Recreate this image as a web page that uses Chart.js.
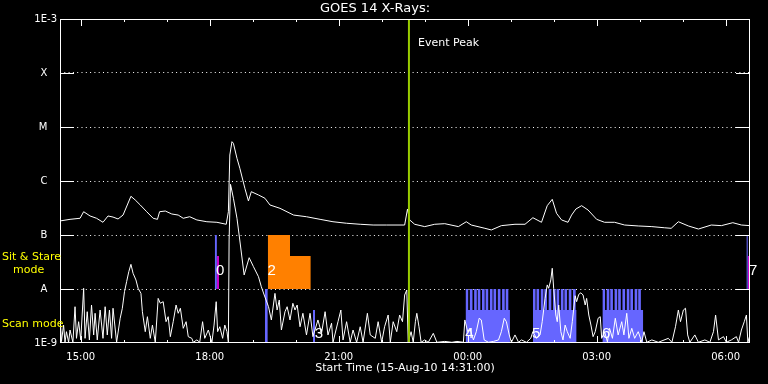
<!DOCTYPE html>
<html><head><meta charset="utf-8">
<script src="https://cdn.jsdelivr.net/npm/chart.js@4.4.1/dist/chart.umd.min.js"></script>
<style>html,body{margin:0;background:#000;}canvas{display:block;}</style>
</head><body>
<canvas id="c" width="768" height="384"></canvas>
<script>
'use strict';
const WHITE='#ffffff',BLUE='#6666ff',MAGENTA='#cc00cc',ORANGE='#ff8000',PEAK='#99cc00',YELLOW='#ffff00';
const FONT='"DejaVu Sans", sans-serif';
// time = minutes since start of plot (15-Aug-10 14:31:00)
const START='14:31';
const X_TICK_LABELS=['15:00','16:00','17:00','18:00','19:00','20:00','21:00','22:00','23:00','00:00','01:00','02:00','03:00','04:00','05:00','06:00'];
const Y_LEVELS=[1e-9,1e-8,1e-7,1e-6,1e-5,1e-4,1e-3];
const Y_LABELS=['1E-9','A','B','C','M','X','1E-3'];
const T_END=963;
// GOES long channel (1-8 A), [minutes, W/m2]
const LONG=[[0,1.82e-7],[14,1.95e-7],[28,2.04e-7],[33,2.70e-7],[42,2.25e-7],[51,2.04e-7],[60,1.72e-7],[67,2.25e-7],[74,2.15e-7],[81,1.98e-7],[88,2.34e-7],[99,5.21e-7],[105,4.45e-7],[112,3.60e-7],[121,2.70e-7],[130,2.04e-7],[136,1.95e-7],[139,2.70e-7],[147,2.78e-7],[156,2.45e-7],[165,2.34e-7],[172,2.04e-7],[181,2.18e-7],[191,1.90e-7],[205,1.76e-7],[219,1.72e-7],[232,1.58e-7],[235,2.70e-7],[237,3.03e-6],[240,5.35e-6],[242,4.99e-6],[247,2.63e-6],[251,1.72e-6],[258,7.33e-7],[263,4.27e-7],[267,6.34e-7],[277,5.51e-7],[286,4.79e-7],[293,3.60e-7],[307,3.12e-7],[326,2.34e-7],[344,2.18e-7],[363,1.95e-7],[381,1.76e-7],[400,1.65e-7],[419,1.58e-7],[437,1.53e-7],[456,1.53e-7],[481,1.53e-7],[485,3.03e-7],[488,1.90e-7],[495,1.58e-7],[509,1.43e-7],[523,1.58e-7],[537,1.62e-7],[556,1.43e-7],[567,1.76e-7],[574,1.53e-7],[593,1.33e-7],[602,1.24e-7],[616,1.49e-7],[635,1.58e-7],[649,1.58e-7],[660,2.09e-7],[672,1.72e-7],[680,3.49e-7],[687,4.58e-7],[693,2.52e-7],[700,1.90e-7],[709,1.72e-7],[714,2.34e-7],[720,3.03e-7],[728,3.49e-7],[737,2.90e-7],[749,1.95e-7],[760,1.72e-7],[774,1.72e-7],[788,1.53e-7],[807,1.47e-7],[826,1.43e-7],[844,1.36e-7],[853,1.33e-7],[863,1.76e-7],[877,1.47e-7],[891,1.29e-7],[909,1.53e-7],[923,1.49e-7],[939,1.69e-7],[951,1.53e-7],[963,1.49e-7]];
// GOES short channel (0.5-4 A)
const SHORT=[[0,3.3e-9],[2,1.06e-9],[5,2.15e-9],[7,1.03e-9],[9,1.62e-9],[12,1.03e-9],[14,1.74e-9],[18,1.03e-9],[21,4.7e-9],[23,1.22e-9],[26,2.48e-9],[29,1.14e-9],[33,1.03e-8],[35,1.22e-9],[38,3.8e-9],[41,1.14e-9],[44,5.05e-9],[47,1.41e-9],[49,3.55e-9],[52,1.14e-9],[56,4.08e-9],[60,1.22e-9],[63,4.7e-9],[66,1.41e-9],[69,4.08e-9],[72,1.22e-9],[74,4.4e-9],[79,1.03e-9],[84,2.87e-9],[87,4.4e-9],[90,8.9e-9],[93,1.37e-8],[96,2.09e-8],[99,2.86e-8],[102,1.95e-8],[106,1.47e-8],[109,1.03e-8],[113,8.3e-9],[115,3.8e-9],[119,1.62e-9],[122,3.07e-9],[126,1.22e-9],[129,2.15e-9],[133,1.03e-9],[137,6.7e-9],[140,5.44e-9],[144,5.82e-9],[148,2.48e-9],[151,3.07e-9],[154,1.31e-9],[158,2.48e-9],[162,5.05e-9],[165,3.55e-9],[168,4.4e-9],[172,1.87e-9],[176,2.48e-9],[179,1.31e-9],[184,1.22e-9],[186,1.03e-9],[191,1.14e-9],[195,1.03e-9],[199,2.48e-9],[202,1.22e-9],[207,1.74e-9],[212,1.03e-9],[215,2.15e-9],[218,5.82e-9],[220,1.62e-9],[223,2.0e-9],[227,1.22e-9],[230,2.15e-9],[233,1.62e-9],[235,1.03e-9],[236,8.1e-8],[238,8.68e-7],[242,4.79e-7],[247,2.04e-7],[250,1.0e-7],[257,1.82e-8],[264,3.8e-8],[270,2.59e-8],[277,1.69e-8],[281,1.1e-8],[285,7.74e-9],[291,4.7e-9],[295,2.67e-9],[300,8.3e-9],[303,4.08e-9],[306,6.25e-9],[309,1.74e-9],[314,3.8e-9],[317,4.7e-9],[321,2.67e-9],[325,5.44e-9],[328,4.08e-9],[331,5.05e-9],[335,2.0e-9],[339,3.55e-9],[344,1.41e-9],[349,3.55e-9],[353,1.31e-9],[360,2.67e-9],[365,1.51e-9],[370,3.8e-9],[374,1.41e-9],[379,2.32e-9],[381,1.03e-9],[388,2.48e-9],[392,4.08e-9],[395,1.14e-9],[400,2.48e-9],[405,1.03e-9],[409,1.74e-9],[414,1.03e-9],[419,2.0e-9],[423,1.03e-9],[429,3.55e-9],[433,1.41e-9],[440,1.22e-9],[444,2.48e-9],[449,1.03e-9],[453,2.0e-9],[458,3.3e-9],[461,1.03e-9],[465,2.48e-9],[470,1.62e-9],[474,3.3e-9],[478,2.48e-9],[481,7.74e-9],[484,9.58e-9],[486,1.03e-9],[490,1.62e-9],[493,1.03e-9],[496,2.48e-9],[498,3.55e-9],[501,2.0e-9],[504,1.03e-9],[509,1.14e-9],[514,1.03e-9],[521,1.51e-9],[526,1.03e-9],[537,1.07e-9],[547,1.03e-9],[554,1.07e-9],[563,1.03e-9],[565,2.67e-9],[569,1.62e-9],[572,1.87e-9],[577,1.14e-9],[581,1.62e-9],[585,2.87e-9],[588,2.67e-9],[592,1.14e-9],[598,1.03e-9],[605,1.07e-9],[612,1.14e-9],[616,1.62e-9],[620,2.87e-9],[623,2.48e-9],[627,1.41e-9],[630,1.03e-9],[635,1.41e-9],[640,1.03e-9],[644,1.14e-9],[651,1.03e-9],[657,1.22e-9],[660,1.62e-9],[665,1.22e-9],[670,1.41e-9],[673,2.48e-9],[677,6.7e-9],[680,1.19e-8],[682,1.03e-8],[685,1.47e-8],[687,2.42e-8],[689,1.03e-8],[692,3.3e-9],[694,2.48e-9],[696,5.05e-9],[699,1.62e-9],[702,1.14e-9],[705,2.15e-9],[708,1.62e-9],[712,1.22e-9],[715,2.48e-9],[719,7.5e-9],[721,5.82e-9],[724,7.95e-9],[727,8.5e-9],[730,7.74e-9],[733,5.05e-9],[735,6.7e-9],[738,3.3e-9],[741,2.15e-9],[744,1.31e-9],[747,1.62e-9],[751,2.87e-9],[754,3.07e-9],[756,1.22e-9],[760,1.62e-9],[764,1.05e-9],[767,1.87e-9],[771,1.22e-9],[775,2.87e-9],[779,1.41e-9],[784,2.48e-9],[787,1.41e-9],[791,3.55e-9],[794,1.22e-9],[798,1.87e-9],[802,1.22e-9],[807,1.62e-9],[812,1.05e-9],[815,1.62e-9],[819,1.03e-9],[826,1.14e-9],[835,1.03e-9],[849,1.22e-9],[854,1.03e-9],[859,2.0e-9],[863,4.08e-9],[866,2.48e-9],[870,4.08e-9],[873,4.4e-9],[876,1.41e-9],[879,1.03e-9],[886,1.41e-9],[891,1.03e-9],[900,1.14e-9],[907,1.03e-9],[912,1.62e-9],[915,3.3e-9],[919,1.14e-9],[926,1.31e-9],[930,1.03e-9],[937,1.14e-9],[944,1.31e-9],[947,1.03e-9],[951,1.74e-9],[955,2.48e-9],[958,3.3e-9],[960,1.03e-9],[963,1.41e-9]];
const EVENT_PEAK=487;
// observing mode bands
const SIT_LO=1e-8,SIT_HI=1e-7,SIT_PART=4.1e-8;
const SCAN_LO=1e-9,SCAN_MID=4.1e-9,SCAN_HI=1e-8;
const SIT_BLUE=[[216,219],[958,960]];
const SIT_MAGENTA=[[219,222],[960,963]];
const SIT_ORANGE=[[290,321,SIT_HI],[321,350,SIT_PART]];
const SCAN_BLUE=[[286,290,SCAN_HI],[353,356,SCAN_MID]];
const RASTER_MIN=3.7;
const SCAN_TEETH=[[566,572,578,583,589,594,600,605,611,617,622],[660,665,671,676,682,688,693,699,704,710,716],[757,763,768,774,779,785,791,796,802,807]];
const SCAN_END=[628,721,814];
const MODE_LABELS=[['0',219,'sit'],['2',291,'sit'],['3',357,'scan'],['4',567,'scan'],['5',660,'scan'],['6',758,'scan'],['7',963,'sit']];

const toMin=s=>{const[h,m]=s.split(':').map(Number);const[h0,m0]=START.split(':').map(Number);let d=h*60+m-(h0*60+m0);return d<0?d+1440:d;};
const X_TICKS=X_TICK_LABELS.map(toMin);
const isMajor=i=>parseInt(X_TICK_LABELS[i],10)%3===0;

const rect=(t0,t1,lo,hi,color)=>({data:[{x:t0,y:hi},{x:t1,y:hi}],fill:{value:lo},backgroundColor:color,borderColor:'rgba(0,0,0,0)',borderWidth:0,pointRadius:0,order:3});
const comb=(teeth,end)=>{
  const pts=[];
  teeth.forEach((s,i)=>{if(i)pts.push({x:s,y:SCAN_MID});pts.push({x:s,y:SCAN_HI},{x:s+RASTER_MIN,y:SCAN_HI},{x:s+RASTER_MIN,y:SCAN_MID});});
  pts.push({x:end,y:SCAN_MID});
  return {data:pts,fill:{value:SCAN_LO},backgroundColor:BLUE,borderColor:'rgba(0,0,0,0)',borderWidth:0,pointRadius:0,order:3};
};
const curve=(arr)=>({data:arr.map(([x,y])=>({x,y})),borderColor:WHITE,borderWidth:1,pointRadius:0,tension:0,fill:false,order:2});

const datasets=[
  ...SIT_BLUE.map(([a,b])=>rect(a,b,SIT_LO,SIT_HI,BLUE)),
  ...SIT_MAGENTA.map(([a,b])=>rect(a,b,SIT_LO,SIT_PART,MAGENTA)),
  ...SIT_ORANGE.map(([a,b,h])=>rect(a,b,SIT_LO,h,ORANGE)),
  ...SCAN_BLUE.map(([a,b,h])=>rect(a,b,SCAN_LO,h,BLUE)),
  ...SCAN_TEETH.map((t,i)=>comb(t,SCAN_END[i])),
  curve(LONG),curve(SHORT),
  {data:[{x:EVENT_PEAK,y:1e-9},{x:EVENT_PEAK,y:1e-3}],borderColor:PEAK,borderWidth:2,pointRadius:0,fill:false,order:0}
];

const frame={id:'frame',afterDraw(chart){
  const {ctx,chartArea:a,scales:{x,y}}=chart;
  ctx.save();
  ctx.strokeStyle=WHITE;ctx.lineWidth=1;
  ctx.strokeRect(a.left+.5,a.top+.5,a.right-a.left-1,a.bottom-a.top-1);
  ctx.beginPath();
  X_TICKS.forEach((v,i)=>{const px=Math.round(x.getPixelForValue(v))+.5,len=isMajor(i)?7:3;
    ctx.moveTo(px,a.top);ctx.lineTo(px,a.top+len);ctx.moveTo(px,a.bottom);ctx.lineTo(px,a.bottom-len);});
  Y_LEVELS.slice(1,-1).forEach(v=>{const py=Math.round(y.getPixelForValue(v))+.5;
    ctx.moveTo(a.left,py);ctx.lineTo(a.left+14,py);ctx.moveTo(a.right-14,py);ctx.lineTo(a.right,py);});
  ctx.stroke();
  ctx.fillStyle=WHITE;ctx.textBaseline='middle';ctx.textAlign='left';
  ctx.font='11px '+FONT;
  ctx.fillText('Event Peak',x.getPixelForValue(EVENT_PEAK)+9,a.top+24);
  ctx.font='15px "Liberation Sans Narrow", "Liberation Sans", sans-serif';
  MODE_LABELS.forEach(([t,m,band])=>{
    const py=band==='sit'?y.getPixelForValue(2.15e-8):y.getPixelForValue(1.5e-9);
    ctx.fillText(t,x.getPixelForValue(m)-1,py);
  });
  ctx.fillStyle=YELLOW;ctx.font='11px '+FONT;
  const ySit=y.getPixelForValue(Math.sqrt(SIT_LO*SIT_HI));
  ctx.fillText('Sit & Stare',2,ySit-5);
  ctx.fillText('mode',13,ySit+8);
  ctx.fillText('Scan mode',2,y.getPixelForValue(2.2e-9));
  ctx.restore();
}};

new Chart(document.getElementById('c'),{
  type:'line',
  data:{datasets},
  plugins:[frame],
  options:{
    responsive:false,animation:false,
    layout:{padding:{left:0,right:18,top:0,bottom:0}},
    plugins:{legend:{display:false},tooltip:{enabled:false},
      title:{display:true,text:'GOES 14 X-Rays:',color:WHITE,font:{family:FONT,size:13,weight:'normal'},padding:{top:1,bottom:2.4}}},
    scales:{
      x:{type:'linear',min:0,max:T_END,
        afterBuildTicks:s=>{s.ticks=X_TICKS.map(v=>({value:v}));},
        afterFit:s=>{s.height=41;},
        grid:{display:false,drawTicks:false},border:{display:false},
        ticks:{color:WHITE,font:{family:FONT,size:10},padding:8,autoSkip:false,maxRotation:0,
          callback:(v,i)=>isMajor(i)?X_TICK_LABELS[i]:''},
        title:{display:true,text:'Start Time (15-Aug-10 14:31:00)',color:WHITE,font:{family:FONT,size:11},padding:{top:0,bottom:9.4}}},
      y:{type:'logarithmic',min:1e-9,max:1e-3,
        afterBuildTicks:s=>{s.ticks=Y_LEVELS.map(v=>({value:v}));},
        afterFit:s=>{s.width=60;},
        grid:{drawTicks:false,lineWidth:1,color:c=>(c.index>0&&c.index<Y_LEVELS.length-1)?WHITE:'rgba(0,0,0,0)'},
        border:{display:false,dash:[1,3.3]},
        ticks:{color:WHITE,font:{family:FONT,size:10},padding:3,
          callback:(v,i)=>Y_LABELS[i].length===1?Y_LABELS[i]+'   ':Y_LABELS[i]}}
    }
  }
});
</script>
</body></html>
